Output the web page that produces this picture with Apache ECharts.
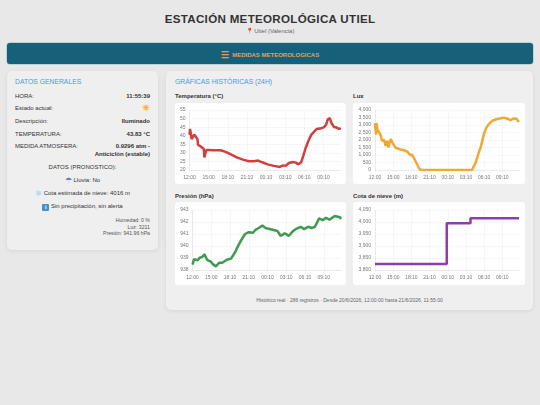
<!DOCTYPE html>
<html>
<head>
<meta charset="utf-8">
<title>Estación Meteorológica Utiel</title>
<script src="https://cdn.jsdelivr.net/npm/echarts@6/dist/echarts.min.js"></script>
<style>
  html, body { margin: 0; padding: 0; }
  body { width: 540px; height: 405px; position: relative; overflow: hidden; background: #e8e8e8;
         font-family: "Liberation Sans", Arial, sans-serif; color: #333; }
  .t { position: absolute; white-space: nowrap; line-height: 1; }
  .l { left: 15px; }
  .r { right: 390px; font-weight: bold; text-align: right; }
  .c { left: 7px; width: 151px; text-align: center; }
  .s { font-size: 6px; }
  .mini { font-size: 5.2px; color: #555; right: 390px; }
  .box { position: absolute; background: #efefef; border-radius: 5px; box-shadow: 0 1px 4px rgba(0,0,0,.08); }
  .head { font-size: 6.8px; color: #4a98e0; }
  .ct { font-size: 6px; font-weight: bold; color: #333; }
  .card { position: absolute; background: #fff; border-radius: 3px; }
</style>
</head>
<body>
<div class="t" style="left:0;width:540px;top:12.5px;text-align:center;font-size:11.6px;font-weight:bold;letter-spacing:.3px">ESTACIÓN METEOROLÓGICA UTIEL</div>
<div class="t" style="left:0;width:540px;top:28px;text-align:center;font-size:6px;color:#666">📍 Utiel (Valencia)</div>

<div style="position:absolute;left:7px;top:43px;width:526px;height:21px;background:#17607a;border-radius:3px;box-shadow:0 0 0 .5px #8fbcc8"></div>
<div class="t" style="left:0;width:540px;top:50.5px;text-align:center;font-size:6px;font-weight:bold;color:#e5a04c"><span style="font-size:9px;vertical-align:-1.5px">☰</span>&nbsp; MEDIDAS METEOROLOGICAS</div>

<div class="box" style="left:7px;top:71px;width:151px;height:179px"></div>
<div class="t head l" style="top:79px">DATOS GENERALES</div>
<div class="t s l" style="top:93px">HORA:</div><div class="t s r" style="top:93px">11:55:39</div>
<div class="t s l" style="top:105px">Estado actual:</div><div class="t r" style="top:104px;font-size:9px;color:#f5b233">☀</div>
<div class="t s l" style="top:118px">Descripción:</div><div class="t s r" style="top:118px">Iluminado</div>
<div class="t s l" style="top:130.5px">TEMPERATURA:</div><div class="t s r" style="top:130.5px">43.83 °C</div>
<div class="t s l" style="top:143px">MEDIDA ATMOSFERA:</div>
<div class="t s r" style="top:143px;line-height:7.5px">0.9296 atm -<br>Anticiclón (estable)</div>
<div class="t s c" style="top:164px">DATOS (PRONOSTICO):</div>
<div class="t s c" style="top:177px"><span style="color:#5b7fd0;font-size:8px;vertical-align:-1px">☂</span> Lluvia: No</div>
<div class="t s c" style="top:190px"><span style="color:#9ad0ee;font-size:8px;vertical-align:-1px">❄</span> Cota estimada de nieve: 4016 m</div>
<div class="t s c" style="top:203px"><span style="display:inline-block;width:7px;height:7px;line-height:7px;background:#4a90c8;color:#fff;border-radius:1px;font-size:5.5px;font-weight:bold;vertical-align:-1px">i</span> Sin precipitación, sin alerta</div>
<div class="t mini" style="top:218px">Humedad: 0 %</div>
<div class="t mini" style="top:224.5px">Luz: 3211</div>
<div class="t mini" style="top:231px">Presión: 941.96 hPa</div>

<div class="box" style="left:166px;top:71px;width:367px;height:239px"></div>
<div class="t head" style="left:175px;top:79px">GRÁFICAS HISTÓRICAS (24H)</div>
<div class="t ct" style="left:175px;top:93px">Temperatura (°C)</div>
<div class="t ct" style="left:353px;top:93px">Lux</div>
<div class="t ct" style="left:175px;top:193px">Presión (hPa)</div>
<div class="t ct" style="left:353px;top:193px">Cota de nieve (m)</div>
<div class="card" id="tempChart" style="left:175px;top:103px;width:171px;height:81px"></div>
<div class="card" id="luxChart" style="left:353px;top:103px;width:172px;height:81px"></div>
<div class="card" id="presChart" style="left:175px;top:202px;width:171px;height:83px"></div>
<div class="card" id="snowChart" style="left:353px;top:202px;width:172px;height:83px"></div>
<div class="t" style="left:166px;width:367px;top:297.5px;text-align:center;font-size:5px;color:#666">Histórico real · 286 registros · Desde 20/6/2026, 12:00:00 hasta 21/6/2026, 11:55:00</div>

<script>
// etiquetas del eje x, una cada 36 registros
const tickLabels = ['12:00', '15:00', '18:10', '21:10', '00:10', '03:10', '06:10', '09:10'];
const lastRecord = 285;

const tempRecords = [0, 1, 3, 4, 6, 9, 12, 15, 16, 20, 23, 27, 28, 30, 32, 36, 45, 58, 68, 77, 90, 102, 112, 121, 129, 137, 147, 159, 170, 176, 181, 186, 194, 200, 205, 210, 214, 219, 224, 229, 235, 239, 248, 253, 257, 260, 264, 267, 272, 276, 281, 285];
const tempValues = [40.5, 44, 40.5, 38, 38.5, 40.7, 41, 38, 34.7, 34, 33, 32.3, 27.4, 29.8, 31.7, 31.7, 31.5, 31.5, 30.6, 29.2, 27.2, 25.9, 25.1, 25.1, 25.5, 24.5, 23.3, 22.4, 21.8, 22.7, 22.4, 23.9, 24.7, 24.3, 23.3, 24.5, 28.2, 33.3, 37.2, 40.5, 42.5, 43.9, 44.3, 45, 46.4, 49.4, 50.3, 47.4, 45, 44.9, 44, 44.3];

const luxRecords = [0, 1, 2, 3, 5, 8, 11, 14, 18, 21, 24, 27, 28, 31, 33, 36, 40, 49, 59, 64, 68, 74, 79, 84, 88, 92, 192, 195, 200, 205, 210, 215, 220, 225, 232, 242, 255, 262, 268, 275, 280, 284, 285];
const luxValues = [3130, 3240, 2350, 3130, 2680, 2570, 2350, 1940, 2010, 1610, 1940, 1500, 1740, 2055, 2080, 1740, 1500, 1385, 1300, 1230, 1050, 980, 670, 335, 70, 0, 0, 110, 560, 1120, 1610, 2350, 2790, 3060, 3280, 3400, 3490, 3420, 3330, 3440, 3420, 3240, 3200];

const presRecords = [0, 3, 6, 10, 13, 19, 23, 26, 28, 35, 40, 45, 51, 57, 66, 74, 82, 88, 95, 101, 108, 116, 121, 127, 134, 140, 150, 163, 169, 177, 185, 192, 200, 208, 214, 222, 229, 235, 243, 250, 256, 263, 273, 283, 285];
const presValues = [938.45, 938.9, 939, 938.8, 939, 939.1, 939.3, 939.3, 938.85, 938.7, 938.45, 938.3, 938.6, 938.6, 938.85, 938.95, 939.5, 940.05, 940.6, 941, 941.15, 941.1, 941.35, 941.5, 941.7, 941.5, 941.4, 941.25, 940.85, 941.05, 940.85, 941.2, 941.45, 941.6, 941.4, 941.6, 941.5, 941.6, 942.3, 942.15, 942.35, 942.2, 942.5, 942.4, 942.25];

const snowRecords = [0, 142, 189, 285];
const snowValues = [3825, 3995, 4016, 4016];

function drawChart(id, records, values, color, yMin, yMax, yStep, left, right, top, bottom, stepped) {
  const chart = echarts.init(document.getElementById(id), null, { renderer: 'canvas' });
  chart.setOption({
    animation: false,
    grid: { left: left, right: right, top: top, bottom: bottom },
    xAxis: {
      type: 'value',
      min: 0,
      max: lastRecord,
      interval: 36,
      axisLine: { lineStyle: { color: '#dcdcdc', width: 0.5 } },
      axisTick: { show: true, length: 2, lineStyle: { color: '#e4e4e4', width: 0.5 } },
      axisLabel: {
        fontSize: 5, color: '#777', margin: 5, fontFamily: 'Liberation Sans',
        showMaxLabel: false,
        formatter: v => tickLabels[v / 36] || ''
      },
      splitLine: { show: true, showMaxLine: false, lineStyle: { color: '#ececec', width: 0.5 } }
    },
    yAxis: {
      type: 'value',
      min: yMin,
      max: yMax,
      interval: yStep,
      axisLine: { show: true, lineStyle: { color: '#dcdcdc', width: 0.5 } },
      axisTick: { show: false },
      axisLabel: {
        fontSize: 5, color: '#777', margin: 4, fontFamily: 'Liberation Sans',
        formatter: v => v.toLocaleString('en-US')
      },
      splitLine: { show: true, lineStyle: { color: '#ececec', width: 0.5 } }
    },
    series: [{
      type: 'line',
      data: records.map((r, i) => [r, values[i]]),
      step: stepped ? 'end' : false,
      showSymbol: false,
      lineStyle: { color: color, width: 2.5 }
    }]
  });
}

drawChart('tempChart', tempRecords, tempValues, '#d33f3f', 20, 55, 5, 14.5, 5, 7, 14);
drawChart('luxChart', luxRecords, luxValues, '#f3a733', 0, 4000, 500, 22, 6, 7, 14);
drawChart('presChart', presRecords, presValues, '#3f9b4e', 938, 943, 1, 17.5, 5, 8, 15);
drawChart('snowChart', snowRecords, snowValues, '#8e3ea6', 3800, 4050, 50, 22, 6, 8, 15, true);
</script>
</body>
</html>
